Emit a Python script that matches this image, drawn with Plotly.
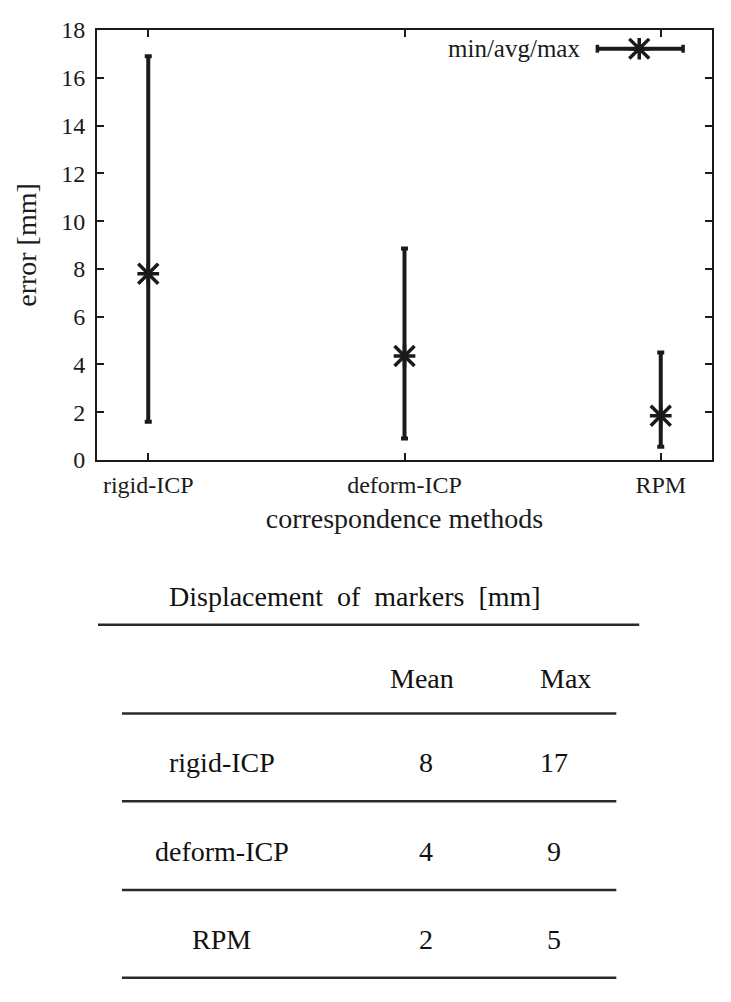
import plotly.graph_objects as go

# ---------------- data ----------------
methods = ["rigid-ICP", "deform-ICP", "RPM"]
err_min = [1.6, 0.9, 0.55]
err_avg = [7.8, 4.35, 1.85]
err_max = [16.9, 8.85, 4.5]

y_ticks = [0, 2, 4, 6, 8, 10, 12, 14, 16, 18]

table_title = "Displacement\u00a0\u00a0of\u00a0\u00a0markers\u00a0\u00a0[mm]"
table_cols = ["Mean", "Max"]
table_methods = ["rigid-ICP", "deform-ICP", "RPM"]
table_mean = [8, 4, 2]
table_max = [17, 9, 5]

# ---------------- layout geometry (pixels, page coordinates) ----------------
OFF = 8  # default body margin of the html page (all sides)
PAGE_W, PAGE_H = 731, 1002
W, H = PAGE_W - 2 * OFF, PAGE_H - 2 * OFF   # figure fits without scrolling
L, R, T, B = 97, 714, 24, 460  # plot area edges on the page
PW, PH = R - L, B - T


def px2x(px):
    return (px - L) / PW


def py2y(py):
    return (B - py) / PH


INK = "#1a1a1a"
FONT = "Liberation Serif, Times New Roman, serif"

err_plus = [mx - av for mx, av in zip(err_max, err_avg)]
err_minus = [av - mn for mn, av in zip(err_min, err_avg)]

fig = go.Figure()
fig.add_trace(go.Scatter(
    x=methods, y=err_avg, mode="markers", showlegend=False,
    marker=dict(symbol="cross-thin", size=15.5, color=INK,
                line=dict(color=INK, width=3.5)),
    error_y=dict(type="data", symmetric=False, array=err_plus,
                 arrayminus=err_minus, thickness=4, width=3.5, color=INK),
))
fig.add_trace(go.Scatter(
    x=methods, y=err_avg, mode="markers", showlegend=False,
    marker=dict(symbol="x-thin", size=20, color=INK,
                line=dict(color=INK, width=3.5)),
))

shapes = []
annotations = []

# ---- legend key (gnuplot-like) ----
lx0, lx1, lyc, lxc = 599, 685, 43, 641
shapes.append(dict(type="line", xref="paper", yref="paper",
                   x0=px2x(lx0), x1=px2x(lx1), y0=py2y(lyc), y1=py2y(lyc),
                   line=dict(color=INK, width=4)))
for cx in (lx0, lx1):
    shapes.append(dict(type="line", xref="paper", yref="paper",
                       x0=px2x(cx), x1=px2x(cx), y0=py2y(lyc - 4), y1=py2y(lyc + 4),
                       line=dict(color=INK, width=3.5)))
a, d = 11, 10
star = (f"M{px2x(lxc - a)},{py2y(lyc)} L{px2x(lxc + a)},{py2y(lyc)} "
        f"M{px2x(lxc)},{py2y(lyc - a)} L{px2x(lxc)},{py2y(lyc + a)} "
        f"M{px2x(lxc - d)},{py2y(lyc - d)} L{px2x(lxc + d)},{py2y(lyc + d)} "
        f"M{px2x(lxc - d)},{py2y(lyc + d)} L{px2x(lxc + d)},{py2y(lyc - d)}")
shapes.append(dict(type="path", xref="paper", yref="paper", path=star,
                   line=dict(color=INK, width=3.5)))
annotations.append(dict(text="min/avg/max", xref="paper", yref="paper",
                        x=px2x(584), y=py2y(lyc), xanchor="right", yanchor="middle",
                        showarrow=False, font=dict(family=FONT, size=25, color=INK)))

# ---- table below the chart ----
RULE = "#2a2a2a"
shapes.append(dict(type="line", xref="paper", yref="paper",
                   x0=px2x(98), x1=px2x(641), y0=py2y(627), y1=py2y(627),
                   line=dict(color=RULE, width=2.5)))
for ry in (717, 806, 896, 985):
    shapes.append(dict(type="line", xref="paper", yref="paper",
                       x0=px2x(122), x1=px2x(618), y0=py2y(ry), y1=py2y(ry),
                       line=dict(color=RULE, width=2.5)))

tfont = dict(family=FONT, size=28, color="#111111")
annotations.append(dict(text=table_title, xref="paper", yref="paper",
                        x=px2x(356), y=py2y(598), xanchor="center", yanchor="middle",
                        showarrow=False, font=tfont))
col_x = [423, 567]
val_x = [427, 555]
for cx, name in zip(col_x, table_cols):
    annotations.append(dict(text=name, xref="paper", yref="paper",
                            x=px2x(cx), y=py2y(682), xanchor="center", yanchor="middle",
                            showarrow=False, font=tfont))
row_y = [767, 857, 946]
for ry, name, mv, xv in zip(row_y, table_methods, table_mean, table_max):
    annotations.append(dict(text=name, xref="paper", yref="paper",
                            x=px2x(222), y=py2y(ry), xanchor="center", yanchor="middle",
                            showarrow=False, font=tfont))
    annotations.append(dict(text=str(mv), xref="paper", yref="paper",
                            x=px2x(val_x[0]), y=py2y(ry), xanchor="center", yanchor="middle",
                            showarrow=False, font=tfont))
    annotations.append(dict(text=str(xv), xref="paper", yref="paper",
                            x=px2x(val_x[1]), y=py2y(ry), xanchor="center", yanchor="middle",
                            showarrow=False, font=tfont))

fig.update_layout(
    width=W, height=H,
    margin=dict(l=L - OFF, r=(PAGE_W - OFF) - R, t=T - OFF, b=(PAGE_H - OFF) - B, pad=0),
    paper_bgcolor="white", plot_bgcolor="white",
    font=dict(family=FONT, color=INK),
    shapes=shapes, annotations=annotations,
    xaxis=dict(
        type="category", categoryorder="array", categoryarray=methods,
        range=[-0.2, 2.2], showgrid=False, zeroline=False,
        showline=True, linecolor=INK, linewidth=2, mirror="ticks",
        ticks="inside", ticklen=7, tickwidth=1.5, tickcolor=INK,
        tickfont=dict(family=FONT, size=24, color=INK),
        ticklabelstandoff=2,
        title=dict(text="correspondence methods", standoff=12,
                   font=dict(family=FONT, size=28, color=INK)),
    ),
    yaxis=dict(
        range=[0, 18], tickvals=y_ticks, showgrid=False, zeroline=False,
        showline=True, linecolor=INK, linewidth=2, mirror="ticks",
        ticks="inside", ticklen=7, tickwidth=1.5, tickcolor=INK,
        tickfont=dict(family=FONT, size=24, color=INK),
        ticklabelstandoff=5,
        title=dict(text="error [mm]", standoff=16,
                   font=dict(family=FONT, size=28, color=INK)),
    ),
)

fig.write_html("out.html")
